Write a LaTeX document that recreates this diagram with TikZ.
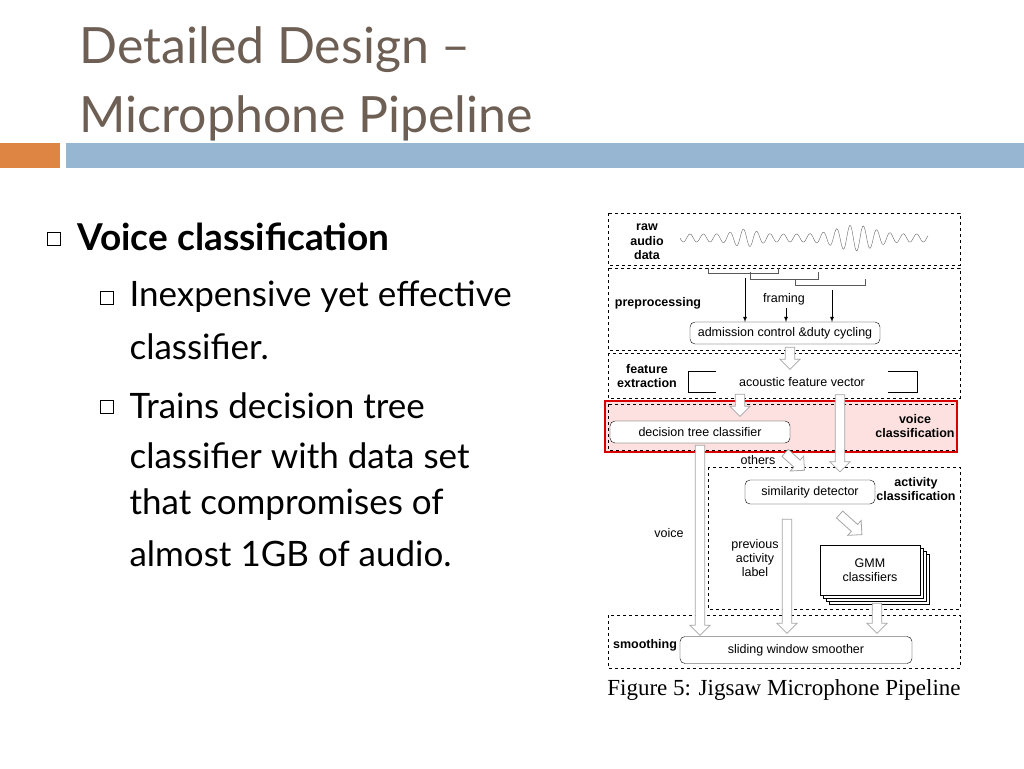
\documentclass[tikz,border=0pt]{standalone}
\usepackage{fontspec}
\setmainfont{Lato}
\newfontfamily\figfont{Liberation Sans}
\newfontfamily\capfont{Liberation Serif}
\usetikzlibrary{shapes.arrows, positioning, calc}
\definecolor{titlegrey}{RGB}{110,95,85}
\definecolor{barorange}{RGB}{222,133,68}
\definecolor{barblue}{RGB}{150,182,210}
\definecolor{hlpink}{RGB}{253,225,225}
\tikzset{x=1pt, y=-1pt,
  stage/.style={draw, dashed, thin},
  proc/.style={draw, rounded corners=5pt, thin, fill=white, font=\figfont\fontsize{12.5}{13}\selectfont, inner sep=0pt},
  lbl/.style={font=\figfont\fontsize{12.5}{14}\selectfont, align=center},
  blbl/.style={font=\figfont\bfseries\fontsize{12.5}{14.5}\selectfont, align=center},
  hollow/.style={single arrow, draw=gray!70, fill=white, thick, inner sep=4pt, single arrow head extend=5pt, minimum width=20pt, single arrow tip angle=90},
  bullet/.style={draw, minimum size=13pt, inner sep=0pt, thin},
  item/.style={anchor=west, font=\fontsize{35}{40}\selectfont}}
\begin{document}
\begin{tikzpicture}
\useasboundingbox (0,0) rectangle (1024,768);
\fill[white] (0,0) rectangle (1024,768);
% title and bars
\node[anchor=west, text=titlegrey, font=\fontsize{50}{56}\selectfont] (title1) at (76,50) {Detailed Design --};
\node[anchor=west, text=titlegrey, font=\fontsize{50}{56}\selectfont] (title2) at (76,118) {Microphone Pipeline};
\fill[barorange] (0,143) rectangle (60,168);
\fill[barblue] (66,143) rectangle (1024,168);
% bullets
\node[bullet] (b0) at (54,239) {};
\node[item, font=\bfseries\fontsize{37}{40}\selectfont] (t0) at (74,237) {Voice classification};
\node[bullet] (b1) at (107,298) {};
\node[item] (t1) at (126,297) {Inexpensive yet effective};
\node[item] (t1b) at (126,347) {classifier.};
\node[bullet] (b2) at (107,407) {};
\node[item] (t2) at (126,406) {Trains decision tree};
\node[item] (t2b) at (126,456) {classifier with data set};
\node[item] (t2c) at (126,505) {that compromises of};
\node[item] (t2d) at (126,554) {almost 1GB of audio.};
% stages
\draw[stage] (608,213) rectangle (960,265);
\draw[stage] (608,268) rectangle (960,350);
\draw[stage] (608,353) rectangle (960,398);
\fill[hlpink] (605,401) rectangle (957,452);
\draw[stage] (608,404) rectangle (957,450);
\draw[red!85!black, line width=2pt] (605,401) rectangle (957,452);
\draw[stage] (708,467) rectangle (960,609);
\draw[stage] (608,615) rectangle (960,668);
% raw audio
\node[blbl] (raw) at (647,242) {raw\\audio\\data};
\draw[gray!80!black, thin, domain=0:248, samples=300, smooth] plot ({680+\x}, {238 + (4+9*exp(-((\x-175)/25)^2)+5*exp(-((\x-65)/15)^2))*sin(\x*27)});
% preprocessing
\node[blbl] (pre) at (658,303) {preprocessing};
\node[lbl] (framing) at (784,299) {framing};
\draw[gray!70!black] (708,268) -- (708,273) -- (778,273) -- (778,268);
\draw[gray!70!black] (750,272) -- (750,279) -- (818,279) -- (818,272);
\draw[gray!70!black] (795,279) -- (795,285) -- (865,285) -- (865,279);
\node[proc, minimum width=190pt, minimum height=22pt] (adm) at (785,333) {admission control \&duty cycling};
\draw[-latex, thick] (745,278) -- (745,322);
\draw[-latex, thick] (786,308) -- (786,322);
\draw[-latex, thick] (832,290) -- (832,322);
% feature extraction
\node[blbl] (feat) at (647,376) {feature\\extraction};
\node[lbl] (afv) at (802,382) {acoustic feature vector};
\draw (716,371) -- (688,371) -- (688,392) -- (716,392);
\draw (888,371) -- (917,371) -- (917,392) -- (888,392);
% voice classification
\node[proc, minimum width=180pt, minimum height=22pt] (dtc) at (700,432) {decision tree classifier};
\node[blbl] (vc) at (915,426) {voice\\classification};
% activity classification
\node[proc, minimum width=130pt, minimum height=24pt] (sim) at (810,492) {similarity detector};
\node[blbl] (ac) at (916,489) {activity\\classification};
\foreach \d in {9,6,3} \draw[fill=white] (820+\d,545+\d) rectangle (920+\d,595+\d);
\node[draw, fill=white, minimum width=100pt, minimum height=50pt, lbl] (gmm) at (870,570) {GMM\\classifiers};
\node[lbl] (others) at (758,460) {others};
\node[lbl] (voice) at (669,533) {voice};
\node[lbl] (prev) at (755,558) {previous\\activity\\label};
% smoothing
\node[blbl] (smo) at (645,645) {smoothing};
\node[proc, minimum width=232pt, minimum height=27pt] (sws) at (796,650) {sliding window smoother};
% hollow arrows
\node[hollow, rotate=-90, minimum height=22pt] (h1) at (790,356) {};
\node[hollow, rotate=-90, minimum height=22pt] (h2) at (740,403) {};
\node[hollow, rotate=-90, minimum height=190pt] (h3) at (700,538) {};
\node[hollow, rotate=-90, minimum height=77pt] (h4) at (840,431) {};
\node[hollow, rotate=-42, minimum height=26pt] (h5) at (793,460) {};
\node[hollow, rotate=-90, minimum height=114pt] (h6) at (787,574) {};
\node[hollow, rotate=-42, minimum height=30pt] (h7) at (849,523) {};
\node[hollow, rotate=-90, minimum height=30pt] (h8) at (877,616) {};
% caption
\node[font=\capfont\fontsize{23}{26}\selectfont] (cap) at (784,690) {Figure 5: Jigsaw Microphone Pipeline};
\end{tikzpicture}
\end{document}
